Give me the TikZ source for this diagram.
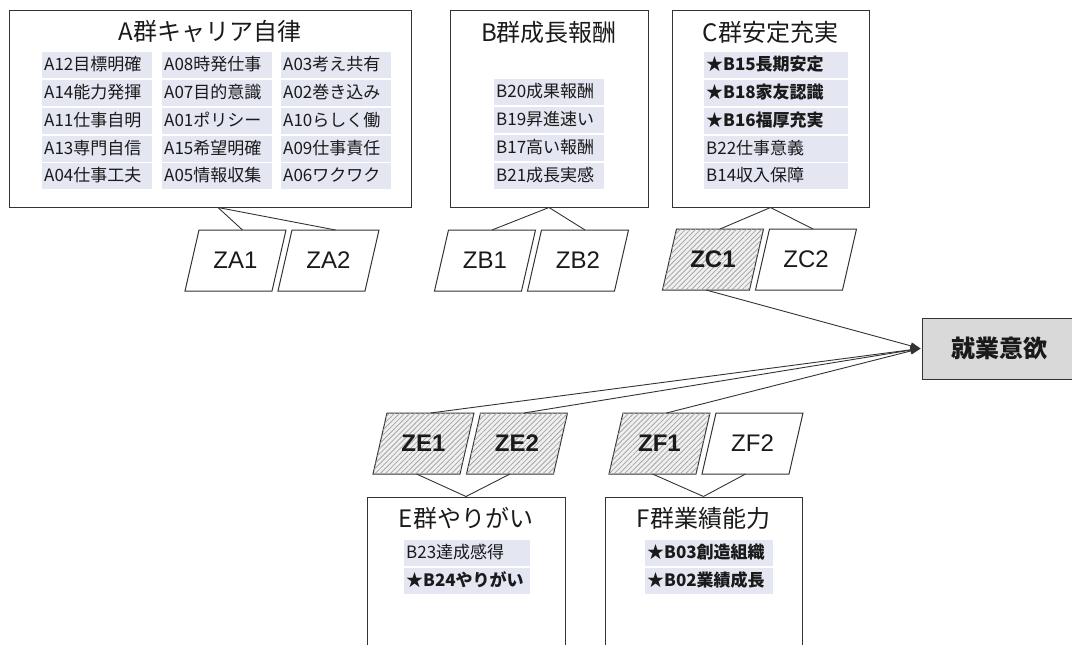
\documentclass[tikz,border=0pt]{standalone}
\usepackage{fontspec}
\setmainfont{Noto Sans CJK JP}
\newfontfamily\latinfont{Liberation Sans}
\usetikzlibrary{patterns,patterns.meta,calc,arrows.meta}
\definecolor{barcol}{HTML}{E4E6F2}
\definecolor{ln}{HTML}{333333}
\definecolor{txt}{HTML}{1A1A1A}
\definecolor{goalfill}{HTML}{D9D9D9}
\definecolor{hatchbg}{HTML}{F0F0F0}
\newcommand\zpar[6]{%
  \path[#5] (#2-36.5,#3-30.5) -- (#2+50.5,#3-30.5) -- (#2+36.5,#3+30.5) -- (#2-50.5,#3+30.5) -- cycle;
  \node[zlab,#6] (#1) at (#2,#3) {#4};
  \coordinate (#1t) at (#2+7,#3-30.5);
  \coordinate (#1b) at (#2-7,#3+30.5);
}
\begin{document}
\begin{tikzpicture}[x=1pt,y=-1pt,
  grp/.style={draw=ln, line width=1pt, inner sep=0pt, rectangle},
  ttl/.style={font=\fontsize{24}{26}\selectfont, text=txt, inner sep=0pt},
  item/.style={fill=barcol, anchor=west, minimum height=26pt, inner xsep=2pt, inner ysep=0pt,
    font=\fontsize{17}{19}\selectfont, text=txt, text height=13pt, text depth=1.5pt, align=left},
  bitem/.style={item, font=\fontsize{17}{19}\selectfont\bfseries},
  wa/.style={text width=106pt},
  wc/.style={text width=140pt},
  we/.style={text width=122pt},
  wf/.style={text width=124pt},
  zplain/.style={draw=ln, line width=1pt, fill=white},
  zhatch/.style={draw=ln, line width=1pt, fill=hatchbg,
    postaction={pattern={Lines[angle=45,distance=3.6pt,line width=0.8pt]}, pattern color=black!35}},
  zlab/.style={minimum width=87pt, minimum height=61pt, inner sep=0pt,
    font=\latinfont\fontsize{24}{26}\selectfont, text=txt},
  zbold/.style={font=\latinfont\fontsize{24}{26}\selectfont\bfseries},
  conn/.style={draw=ln, line width=0.9pt},
  arr/.style={conn, -{Triangle[length=10pt,width=7pt]}}
]
% ---------- group boxes ----------
\node[grp, minimum width=402pt, minimum height=197pt] (A) at (210,108.5) {};
\node[grp, minimum width=198pt, minimum height=197pt] (B) at (549,108.5) {};
\node[grp, minimum width=197pt, minimum height=197pt] (C) at (770.5,108.5) {};
\node[grp, minimum width=198pt, minimum height=160pt] (E) at (466,577) {};
\node[grp, minimum width=197pt, minimum height=160pt] (F) at (703.5,577) {};
\node[grp, fill=goalfill, minimum width=154pt, minimum height=61pt,
  font=\fontsize{24}{26}\selectfont\bfseries, text=txt] (goal) at (999,348.5) {就業意欲};

% ---------- titles ----------
\node[ttl] (tA) at (210,31) {A群キャリア自律};
\node[ttl] (tB) at (549,32) {B群成長報酬};
\node[ttl] (tC) at (770.5,32) {C群安定充実};
\node[ttl] (tE) at (466,518) {E群やりがい};
\node[ttl] (tF) at (703.5,518) {F群業績能力};

% ---------- A items ----------
\node[item, wa] (a12) at (42,65) {A12目標明確};
\node[item, wa] (a14) at (42,93) {A14能力発揮};
\node[item, wa] (a11) at (42,120.5) {A11仕事自明};
\node[item, wa] (a13) at (42,148.5) {A13専門自信};
\node[item, wa] (a04) at (42,176) {A04仕事工夫};
\node[item, wa] (a08) at (162,65) {A08時発仕事};
\node[item, wa] (a07) at (162,93) {A07目的意識};
\node[item, wa] (a01) at (162,120.5) {A01ポリシー};
\node[item, wa] (a15) at (162,148.5) {A15希望明確};
\node[item, wa] (a05) at (162,176) {A05情報収集};
\node[item, wa] (a03) at (281,65) {A03考え共有};
\node[item, wa] (a02) at (281,93) {A02巻き込み};
\node[item, wa] (a10) at (281,120.5) {A10らしく働};
\node[item, wa] (a09) at (281,148.5) {A09仕事責任};
\node[item, wa] (a06) at (281,176) {A06ワクワク};

% ---------- B items ----------
\node[item, wa] (b20) at (494,92) {B20成果報酬};
\node[item, wa] (b19) at (494,120) {B19昇進速い};
\node[item, wa] (b17) at (494,148) {B17高い報酬};
\node[item, wa] (b21) at (494,176) {B21成長実感};

% ---------- C items ----------
\node[bitem, wc] (b15) at (704,65) {★B15長期安定};
\node[bitem, wc] (b18) at (704,93) {★B18家友認識};
\node[bitem, wc] (b16) at (704,120.5) {★B16福厚充実};
\node[item, wc] (b22) at (704,148.5) {B22仕事意義};
\node[item, wc] (b14) at (704,176) {B14収入保障};

% ---------- E / F items ----------
\node[item, we] (b23) at (404,553) {B23達成感得};
\node[bitem, we] (b24) at (404,581) {★B24やりがい};
\node[bitem, wf] (b03) at (645,553) {★B03創造組織};
\node[bitem, wf] (b02) at (645,581) {★B02業績成長};

% ---------- Z parallelograms ----------
\zpar{ZA1}{235.5}{260.5}{ZA1}{zplain}{}
\zpar{ZA2}{328.5}{260.5}{ZA2}{zplain}{}
\zpar{ZB1}{485}{260.5}{ZB1}{zplain}{}
\zpar{ZB2}{578}{260.5}{ZB2}{zplain}{}
\zpar{ZC1}{713}{259.5}{ZC1}{zhatch}{zbold}
\zpar{ZC2}{806}{259.5}{ZC2}{zplain}{}
\zpar{ZE1}{423.5}{443.5}{ZE1}{zhatch}{zbold}
\zpar{ZE2}{517}{443.5}{ZE2}{zhatch}{zbold}
\zpar{ZF1}{659.5}{443.5}{ZF1}{zhatch}{zbold}
\zpar{ZF2}{752.5}{443.5}{ZF2}{zplain}{}

% ---------- connectors ----------
\draw[conn] ($(A.south)+(8,0)$) -- (ZA1t);
\draw[conn] ($(A.south)+(8,0)$) -- (ZA2t);
\draw[conn] (B.south) -- (ZB1t);
\draw[conn] (B.south) -- (ZB2t);
\draw[conn] (C.south) -- (ZC1t);
\draw[conn] (C.south) -- (ZC2t);
\draw[conn] (E.north) -- (ZE1b);
\draw[conn] (E.north) -- (ZE2b);
\draw[conn] (F.north) -- (ZF1b);
\draw[conn] (F.north) -- (ZF2b);

\draw[arr] (ZC1b) -- ($(goal.west)+(-1,0)$);
\draw[arr] (ZE1t) -- ($(goal.west)+(-1,0)$);
\draw[arr] (ZE2t) -- ($(goal.west)+(-1,0)$);
\draw[arr] (ZF1t) -- ($(goal.west)+(-1,0)$);

\pgfresetboundingbox
\path[use as bounding box] (0,0) rectangle (1072,645);
\end{tikzpicture}
\end{document}
